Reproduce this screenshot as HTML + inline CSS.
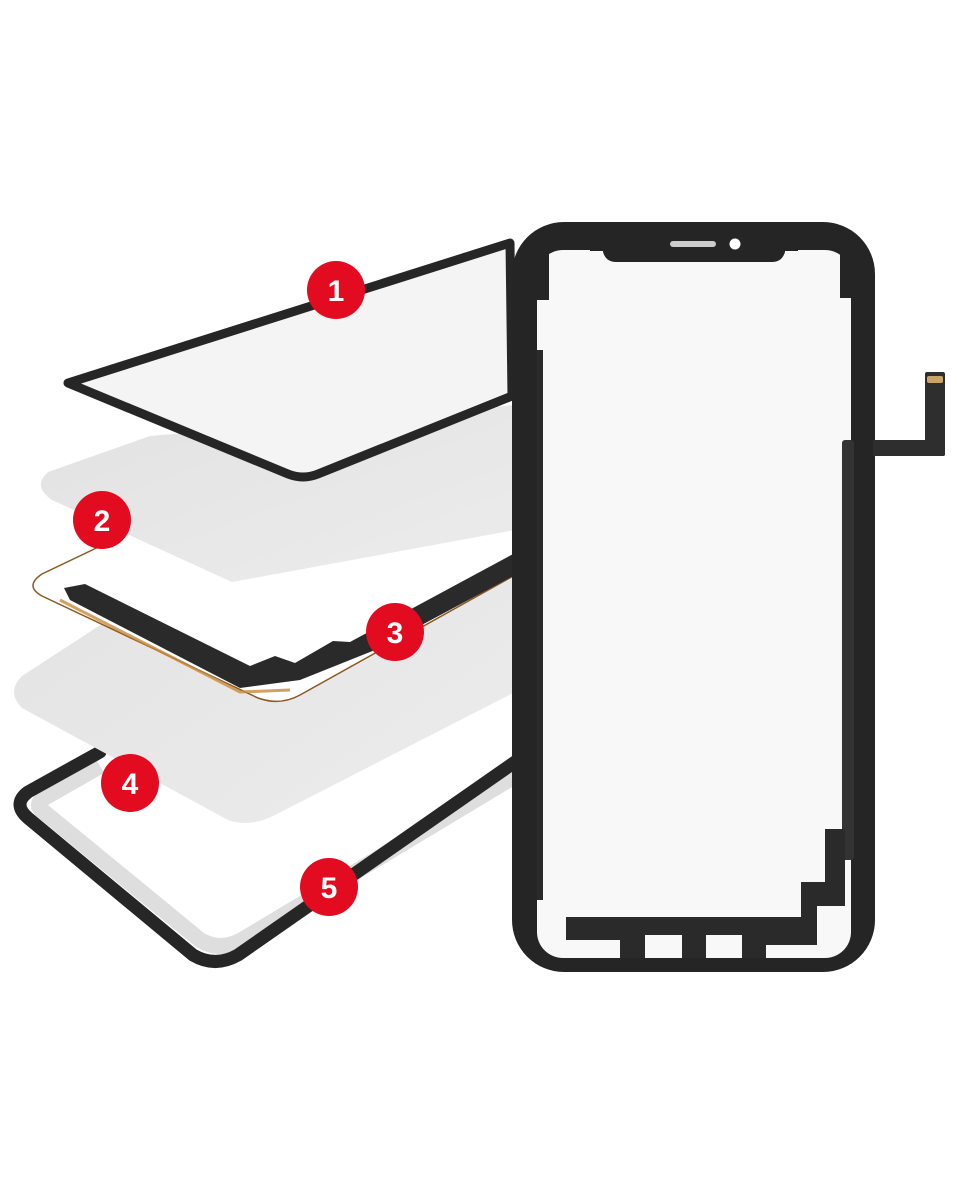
<!DOCTYPE html>
<html><head><meta charset="utf-8"><style>
html,body{margin:0;padding:0;background:#fff;}
svg{display:block}
text{font-family:"Liberation Sans",sans-serif;font-weight:bold;}
</style></head><body>
<svg width="953" height="1200" viewBox="0 0 953 1200" xmlns="http://www.w3.org/2000/svg">
<defs>
<linearGradient id="g1" x1="0" y1="0" x2="1" y2="1">
<stop offset="0" stop-color="#e2e2e2"/><stop offset="1" stop-color="#ececec"/></linearGradient>
</defs>
<rect width="953" height="1200" fill="#fff"/>

<!-- layer 5 frame -->
<path d="M515,700 L515,765 L240,950 Q215,965 195,952 L30,818 Q12,804 30,792 L100,752 L515,520 Z" fill="#fff"/>
<path d="M515,776 L242,940 Q220,952 200,940 L44,812 Q34,805 44,798 L100,766" fill="none" stroke="#dedede" stroke-width="16" stroke-linejoin="round"/>
<path d="M515,762 L238,955 Q215,968 193,955 L28,818 Q12,804 28,792 L100,752" fill="none" stroke="#262626" stroke-width="13" stroke-linejoin="round" stroke-linecap="round"/>

<!-- sheet 2 -->
<path d="M22,676 L300,495 L515,480 L515,692 L275,815 Q250,828 228,820 L22,708 Q6,692 22,676 Z" fill="url(#g1)"/>

<!-- layer 2/3 frame -->
<path d="M515,505 L515,575 L300,695 Q280,706 258,698 L42,596 Q24,586 42,574 L130,532 L515,470 Z" fill="#fff" stroke="#8a5a20" stroke-width="1.5"/>
<path d="M64,588 L85,584 L250,666 L275,656 L295,663 L333,641 L350,642 L515,553 L515,575 L375,650 L300,680 L240,688 L70,600 Z" fill="#2a2a2a"/>
<path d="M60,600 L240,692 L290,690" fill="none" stroke="#c98a3c" stroke-width="3" opacity="0.8"/>

<!-- sheet 1 -->
<path d="M48,472 L150,436 L515,405 L515,530 L232,582 L52,500 Q32,486 48,472 Z" fill="url(#g1)"/>

<!-- layer 1 -->
<path d="M68,383 L510,243 L512,396 L318,474 Q303,480 288,474 Z" fill="#f4f4f4" stroke="#262626" stroke-width="9" stroke-linejoin="round"/>

<!-- right phone -->
<rect x="512" y="222" width="363" height="750" rx="52" fill="#252525"/>
<rect x="537" y="250" width="314" height="708" rx="26" fill="#f8f8f8"/>
<path d="M603,248 L785,248 L785,252 Q782,262 772,262 L616,262 Q606,262 603,252 Z" fill="#252525"/>
<rect x="590" y="237" width="208" height="14" fill="#252525"/>
<rect x="670" y="241" width="46" height="6" rx="3" fill="#ccc"/>
<circle cx="735" cy="244" r="5.5" fill="#fff"/>
<rect x="537" y="250" width="12" height="50" fill="#252525"/>
<rect x="840" y="250" width="12" height="48" fill="#252525"/>
<rect x="842" y="440" width="12" height="420" rx="3" fill="#333"/>
<rect x="537" y="350" width="6" height="550" fill="#2a2a2a"/>
<path d="M566,917 L801,917 L801,882 L825,882 L825,829 L845,829 L845,906 L817,906 L817,945 L766,945 L766,958 L742,958 L742,935 L706,935 L706,958 L682,958 L682,935 L645,935 L645,958 L620,958 L620,940 L566,940 Z" fill="#2a2a2a"/>
<!-- flex -->
<rect x="925" y="372" width="20" height="84" rx="2" fill="#2e2e2e"/>
<rect x="873" y="440" width="72" height="16" rx="2" fill="#2e2e2e"/>
<rect x="927" y="376" width="16" height="7" rx="2" fill="#c9a46a"/>

<!-- badges -->
<g fill="#e30b20">
<circle cx="336" cy="290" r="29"/><circle cx="102" cy="520" r="29"/><circle cx="395" cy="632" r="29"/><circle cx="130" cy="783" r="29"/><circle cx="329" cy="887" r="29"/>
</g>
<g fill="#fff" font-size="30" text-anchor="middle">
<text x="336" y="301">1</text><text x="102" y="531">2</text><text x="395" y="643">3</text><text x="130" y="794">4</text><text x="329" y="898">5</text>
</g>
</svg>
</body></html>
